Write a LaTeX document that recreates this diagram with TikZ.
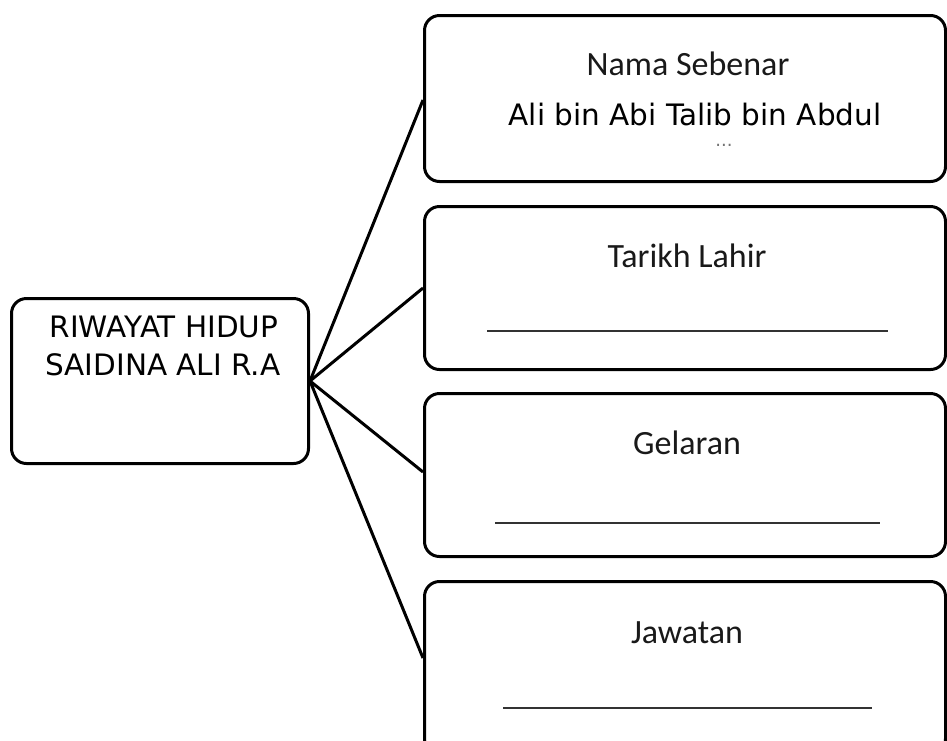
\documentclass[tikz,border=0pt]{standalone}
\usepackage{fontspec}
\setmainfont{DejaVu Sans}
\newfontfamily\calib{Carlito}
\begin{document}
\begin{tikzpicture}[x=1pt,y=-1pt,
  box/.style={draw=black,line width=3pt,rounded corners=15pt,inner sep=0pt,anchor=north west},
  link/.style={draw=black,line width=3pt},
  title/.style={font=\calib\fontsize{34}{40}\selectfont,anchor=base,inner sep=0pt,text=black!90},
  body/.style={font=\fontsize{29.5}{34}\selectfont,anchor=base,inner sep=0pt},
  blank/.style={draw=black!80,line width=1.8pt}]
\useasboundingbox (0,0) rectangle (947,740);
\clip (0,0) rectangle (947,740);
% boxes
\node[box,minimum width=297pt,minimum height=165pt] (main) at (10,297) {};
\node[box,minimum width=521pt,minimum height=166pt] (b1) at (423,14) {};
\node[box,minimum width=521pt,minimum height=163pt] (b2) at (423,205) {};
\node[box,minimum width=521pt,minimum height=163pt] (b3) at (423,392) {};
\node[box,minimum width=521pt,minimum height=172pt] (b4) at (423,580) {};
% texts
\node[body] (t0a) at (164,337) {RIWAYAT HIDUP};
\node[body] (t0b) at (163,375) {SAIDINA ALI R.A};
\node[title] (t1) at (688,75) {Nama Sebenar};
\node[body] (t1b) at (695,125) {Ali bin Abi Talib bin Abdul};
\node[font=\fontsize{18}{18}\selectfont,text=black!55,anchor=base,inner sep=0pt,text height=3pt,text depth=0pt] (t1c) at (724,146) {...};
\node[title] (t2) at (687,267) {Tarikh Lahir};
\node[title] (t3) at (687,454) {Gelaran};
\node[title] (t4) at (687,643) {Jawatan};
% blanks
\coordinate (l2a) at (487,331); \coordinate (l2b) at (888,331);
\coordinate (l3a) at (495,523); \coordinate (l3b) at (880,523);
\coordinate (l4a) at (503,708); \coordinate (l4b) at (872,708);
\draw[blank] (l2a) -- (l2b);
\draw[blank] (l3a) -- (l3b);
\draw[blank] (l4a) -- (l4b);
% connectors
\coordinate (e1) at (423,100);
\coordinate (e2) at (423,288);
\coordinate (e3) at (423,472);
\coordinate (e4) at (423,658);
\draw[link] (main.east) -- (e1);
\draw[link] (main.east) -- (e2);
\draw[link] (main.east) -- (e3);
\draw[link] (main.east) -- (e4);
\end{tikzpicture}
\end{document}
